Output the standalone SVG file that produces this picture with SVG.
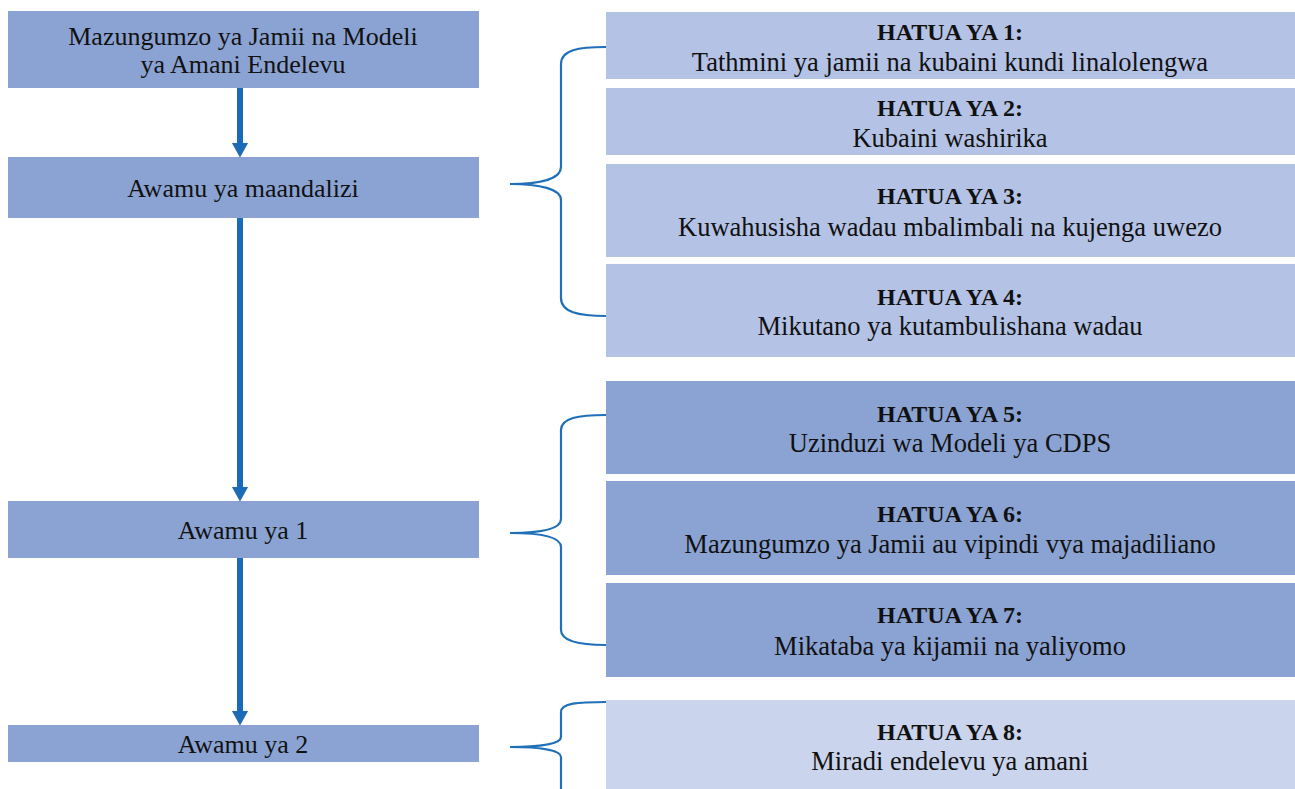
<svg xmlns="http://www.w3.org/2000/svg" width="1295" height="789" viewBox="0 0 1295 789">
<style>
.lb{fill:#8BA3D3}
.rl{fill:#B4C3E5}
.rd{fill:#8BA3D3}
.rx{fill:#CAD4EC}
text{font-family:"Liberation Serif","DejaVu Serif",serif;fill:#111;text-anchor:middle}
.t{font-size:26px}
.h{font-size:24px;font-weight:bold}
.s{font-size:26.5px}
.arr{stroke:#1B6AB7;stroke-width:6;fill:none}
.br{stroke:#2070B8;stroke-width:2.2;fill:none}
</style>
<defs>
<marker id="ah" markerWidth="3" markerHeight="3" refX="0" refY="1.35" orient="auto" markerUnits="strokeWidth" overflow="visible">
<path d="M0,0 L2.4,1.35 L0,2.7 Z" fill="#1B6AB7"/>
</marker>
</defs>
<g id="n-start"><rect class="lb" x="8" y="11" width="471" height="77"/><text class="t" x="243" y="45">Mazungumzo ya Jamii na Modeli</text><text class="t" x="243" y="73">ya Amani Endelevu</text></g>
<g id="n-prep"><rect class="lb" x="8" y="157" width="471" height="61"/><text class="t" x="243" y="197">Awamu ya maandalizi</text></g>
<g id="n-phase1"><rect class="lb" x="8" y="501" width="471" height="57"/><text class="t" x="243" y="539">Awamu ya 1</text></g>
<g id="n-phase2"><rect class="lb" x="8" y="725" width="471" height="37"/><text class="t" x="243" y="753">Awamu ya 2</text></g>
<g id="s1"><rect class="rl" x="606" y="12" width="689" height="67"/><text class="h" x="950" y="40">HATUA YA 1:</text><text class="s" x="950" y="71">Tathmini ya jamii na kubaini kundi linalolengwa</text></g>
<g id="s2"><rect class="rl" x="606" y="88" width="689" height="67"/><text class="h" x="950" y="116">HATUA YA 2:</text><text class="s" x="950" y="147">Kubaini washirika</text></g>
<g id="s3"><rect class="rl" x="606" y="164" width="689" height="93"/><text class="h" x="950" y="204">HATUA YA 3:</text><text class="s" x="950" y="236">Kuwahusisha wadau mbalimbali na kujenga uwezo</text></g>
<g id="s4"><rect class="rl" x="606" y="264" width="689" height="93"/><text class="h" x="950" y="305">HATUA YA 4:</text><text class="s" x="950" y="335">Mikutano ya kutambulishana wadau</text></g>
<g id="s5"><rect class="rd" x="606" y="381" width="689" height="93"/><text class="h" x="950" y="422">HATUA YA 5:</text><text class="s" x="950" y="452">Uzinduzi wa Modeli ya CDPS</text></g>
<g id="s6"><rect class="rd" x="606" y="481" width="689" height="94"/><text class="h" x="950" y="522">HATUA YA 6:</text><text class="s" x="950" y="553">Mazungumzo ya Jamii au vipindi vya majadiliano</text></g>
<g id="s7"><rect class="rd" x="606" y="583" width="689" height="94"/><text class="h" x="950" y="623">HATUA YA 7:</text><text class="s" x="950" y="655">Mikataba ya kijamii na yaliyomo</text></g>
<g id="s8"><rect class="rx" x="606" y="700" width="689" height="89"/><text class="h" x="950" y="740">HATUA YA 8:</text><text class="s" x="950" y="770">Miradi endelevu ya amani</text></g>
<g id="connectors">
<line class="arr" x1="240" y1="88" x2="240" y2="143" marker-end="url(#ah)"/>
<line class="arr" x1="240" y1="218" x2="240" y2="487" marker-end="url(#ah)"/>
<line class="arr" x1="240" y1="558" x2="240" y2="711" marker-end="url(#ah)"/>
<path class="br" d="M606,47 C578,47 561,50 561,64 L561,167 C561,179 540,184 510,184 C540,184 561,189 561,200 L561,298 C561,312 578,316 606,316"/>
<path class="br" d="M606,415 C578,415 561,418 561,430 L561,519 C561,529 540,533 510,533 C540,533 561,537 561,547 L561,630 C561,641 578,645 606,645"/>
<path class="br" d="M606,702 C578,702 561,703 561,712 L561,737 C561,744 540,747 510,747 C540,747 561,750 561,757 L561,789"/>
</g>
</svg>
